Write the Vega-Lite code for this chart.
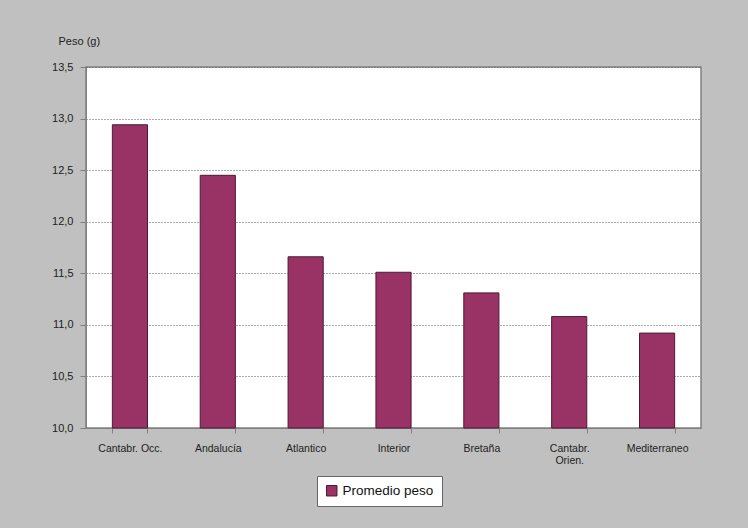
{
  "$schema": "https://vega.github.io/schema/vega-lite/v6.json",
  "width": 615,
  "height": 361,
  "autosize": {"type": "none"},
  "padding": {"left": 86, "top": 67, "right": 47, "bottom": 100},
  "background": "#c0c0c0",
  "config": {
    "font": "Liberation Sans",
    "view": {"fill": "white", "stroke": "#808080", "strokeWidth": 1.5}
  },
  "data": {
    "values": [
      {"region": "Cantabr. Occ.", "peso": 12.94, "serie": "Promedio peso"},
      {"region": "Andalucía", "peso": 12.45, "serie": "Promedio peso"},
      {"region": "Atlantico", "peso": 11.66, "serie": "Promedio peso"},
      {"region": "Interior", "peso": 11.51, "serie": "Promedio peso"},
      {"region": "Bretaña", "peso": 11.31, "serie": "Promedio peso"},
      {"region": "Cantabr. Orien.", "peso": 11.08, "serie": "Promedio peso"},
      {"region": "Mediterraneo", "peso": 10.92, "serie": "Promedio peso"}
    ]
  },
  "mark": {"type": "bar", "stroke": "#4d1a33", "strokeWidth": 1},
  "encoding": {
    "x": {
      "field": "region",
      "type": "nominal",
      "sort": null,
      "scale": {"paddingInner": 0.6, "paddingOuter": 0.3},
      "axis": {
        "title": null,
        "labelAngle": 0,
        "labelFontSize": 10.5,
        "labelColor": "#222222",
        "labelPadding": 10,
        "labelExpr": "datum.label == 'Cantabr. Orien.' ? ['Cantabr.', 'Orien.'] : datum.label",
        "domainColor": "#808080",
        "tickColor": "#808080",
        "tickSize": 5,
        "tickBand": "extent",
        "grid": false
      }
    },
    "y": {
      "field": "peso",
      "type": "quantitative",
      "scale": {"domain": [10, 13.5], "zero": false, "nice": false},
      "axis": {
        "title": "Peso (g)",
        "titleAngle": 0,
        "titleAlign": "left",
        "titleBaseline": "middle",
        "titleX": -28,
        "titleY": -26,
        "titleFontSize": 11,
        "titleFontWeight": "normal",
        "titleColor": "#222222",
        "values": [10, 10.5, 11, 11.5, 12, 12.5, 13, 13.5],
        "labelExpr": "replace(format(datum.value, '.1f'), '.', ',')",
        "labelFontSize": 11,
        "labelColor": "#222222",
        "labelPadding": 7,
        "tickColor": "#808080",
        "tickSize": 6,
        "domainColor": "#808080",
        "grid": true,
        "gridColor": "#555555",
        "gridDash": [1, 2],
        "gridWidth": 1
      }
    },
    "y2": {"datum": 10},
    "color": {
      "field": "serie",
      "type": "nominal",
      "scale": {"range": ["#993366"]},
      "legend": {
        "title": null,
        "orient": "none",
        "legendX": 231,
        "legendY": 409,
        "direction": "vertical",
        "fillColor": "white",
        "strokeColor": "#666666",
        "padding": 8,
        "symbolType": "square",
        "symbolSize": 110,
        "symbolStrokeColor": "#4d1a33",
        "symbolStrokeWidth": 1,
        "labelFontSize": 13.5,
        "labelColor": "#111111",
        "labelLimit": 300
      }
    }
  }
}
